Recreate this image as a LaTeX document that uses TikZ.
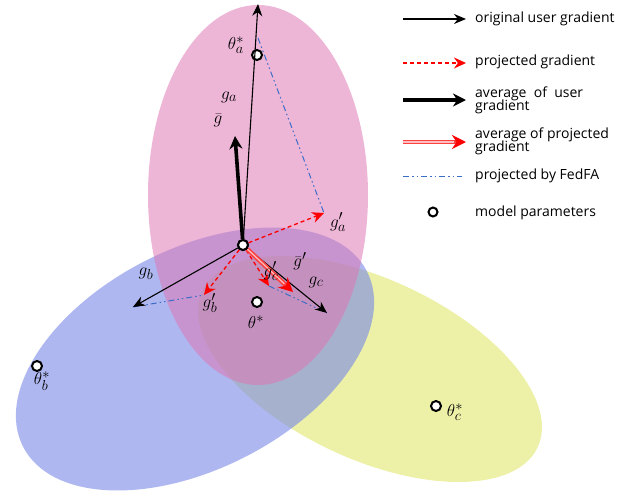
\documentclass[tikz,border=0pt]{standalone}
\usepackage{fontspec}
\newfontfamily\legfont{Open Sans}
\usetikzlibrary{arrows.meta}
\definecolor{pinkE}{RGB}{222,120,180}
\definecolor{blueE}{RGB}{120,135,230}
\definecolor{yelE}{RGB}{225,232,110}
\definecolor{ffblue}{RGB}{60,110,200}
\tikzset{
 orig/.style={black,line width=1.1pt,-{Stealth[length=12pt,width=10pt]}},
 proj/.style={red,dash pattern=on 4pt off 3pt,line width=1.3pt,-{Stealth[length=12pt,width=11pt]}},
 avg/.style={black,line width=3.6pt,-{Stealth[length=13pt,width=13pt]}},
 fedfa/.style={ffblue,line width=1pt,dash pattern=on 6pt off 3pt on 1.5pt off 3pt on 1.5pt off 3pt},
 param/.style={circle,draw=black,fill=white,line width=2pt,inner sep=0pt,minimum size=10pt},
 lbl/.style={inner sep=1pt,font=\fontsize{19}{19}\selectfont},
 leg/.style={anchor=west,font=\legfont\fontsize{14}{13}\selectfont,align=left,inner sep=0pt}
}
\begin{document}
\begin{tikzpicture}[x=1pt,y=-1pt]
\useasboundingbox (0,0) rectangle (640,493);
% ellipses
\fill[yelE,opacity=0.6] (370,369) ellipse [x radius=185, y radius=90, rotate=-25];
\fill[blueE,opacity=0.6] (195,359) ellipse [x radius=193, y radius=110, rotate=27];
\fill[pinkE,opacity=0.55] (258,195) ellipse [x radius=110, y radius=190];
% points
\node[param] (O) at (243,245) {};
\node[param] (ta) at (257,55) {};
\node[param] (ts) at (257,302) {};
\node[param] (tb) at (37,366) {};
\node[param] (tc) at (436,406) {};
\coordinate (ga) at (258,4);
\coordinate (gb) at (133,307);
\coordinate (gc) at (327,313);
\coordinate (gpa) at (324,213);
\coordinate (gpb) at (204,295);
\coordinate (gpc) at (269,286);
\coordinate (gbar) at (235,136);
\coordinate (gbp) at (293,292);
\coordinate (fa) at (258,38);
% FedFA
\draw[fedfa] (fa) -- (gpa);
\draw[fedfa] (gb) -- (gpb);
\draw[fedfa] (gpc) -- (gc);
% arrows
\draw[orig] (O) -- (ga);
\draw[orig] (O) -- (gb);
\draw[orig] (O) -- (gc);
\draw[proj] (O) -- (gpa);
\draw[proj] (O) -- (gpb);
\draw[proj] (O) -- (gpc);
\draw[avg] (O) -- (gbar);
\draw[red!75,line width=4.5pt,-{Stealth[length=14pt,width=14pt,red]}] (O) -- (gbp);
\draw[white!75!red,line width=1.2pt,shorten >=12pt] (O) -- (gbp);
\node[param] at (O) {};
% labels
\node[lbl] at (236,45) {$\theta_a^*$};
\node[lbl] at (229,97) {$g_a$};
\node[lbl] at (218,120) {$\bar g$};
\node[lbl] at (338,222) {$g_a'$};
\node[lbl] at (146,274) {$g_b$};
\node[lbl] at (210,303) {$g_b'$};
\node[lbl] at (271,271) {$g_c'$};
\node[lbl] at (300,261) {$\bar g'$};
\node[lbl] at (316,282) {$g_c$};
\node[lbl] at (256,322) {$\theta^*$};
\node[lbl] at (42,381) {$\theta_b^*$};
\node[lbl] at (455,412) {$\theta_c^*$};
% legend
\coordinate (l1a) at (403,19); \coordinate (l1b) at (466,19);
\coordinate (l2a) at (403,63); \coordinate (l2b) at (466,63);
\coordinate (l3a) at (403,100); \coordinate (l3b) at (466,100);
\coordinate (l4a) at (403,142); \coordinate (l4b) at (466,142);
\coordinate (l5a) at (403,176); \coordinate (l5b) at (462,176);
\draw[orig] (l1a) -- (l1b);
\draw[proj] (l2a) -- (l2b);
\draw[avg] (l3a) -- (l3b);
\draw[red!75,line width=4.5pt,-{Stealth[length=14pt,width=14pt,red]}] (l4a) -- (l4b);
\draw[white!75!red,line width=1.2pt,shorten >=12pt] (l4a) -- (l4b);
\draw[fedfa] (l5a) -- (l5b);
\node[param,minimum size=9pt] (l6) at (433,212) {};
\node[leg] at (475,19) {original user gradient};
\node[leg] at (475,62) {projected gradient};
\node[leg] at (475,100) {average~ of~ user\\[-2pt]gradient};
\node[leg] at (475,141) {average of projected\\[-2pt]gradient};
\node[leg] at (475,176) {projected by FedFA};
\node[leg] at (475,213) {model parameters};
\end{tikzpicture}
\end{document}
